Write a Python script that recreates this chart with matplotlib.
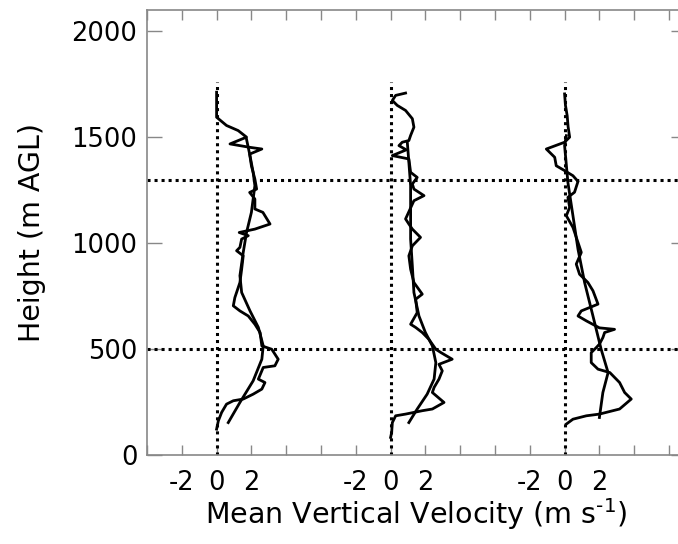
import matplotlib
matplotlib.use("Agg")
import matplotlib.pyplot as plt
import numpy as np

plt.rcParams['font.family'] = ['DejaVu Sans']
plt.rcParams['mathtext.fontset'] = 'dejavusans'
plt.rcParams['axes.unicode_minus'] = False

# panel offsets along the shared x axis (m/s)
offsets = [0, 10, 20]

# panel 1: raw profile and smoothed profile (height m, velocity m/s)
h1_raw = [122, 161, 201, 240, 256, 264, 287, 311, 342, 358, 413, 421, 452, 499, 515, 578,
          617, 656, 680, 704, 743, 814, 877, 940, 964, 980, 1019, 1035, 1050, 1066, 1090,
          1145, 1161, 1208, 1239, 1255, 1302, 1365, 1420, 1444, 1452, 1468, 1500, 1531,
          1555, 1594, 1712]
v1_raw = [0.0, 0.1, 0.29, 0.57, 0.96, 1.53, 2.1, 2.6, 2.78, 2.4, 2.68, 3.35, 3.54, 3.17, 2.6, 2.5,
          2.2, 1.82, 1.34, 0.96, 1.05, 1.34, 1.44, 1.53, 1.15, 1.34, 1.44, 1.82, 1.3, 2.2, 3.07,
          2.66, 2.2, 2.2, 1.9, 2.3, 2.2, 2.0, 1.9, 2.6, 1.9, 0.77, 1.72, 1.24,
          0.57, 0.0, 0.0]
h1_smooth = [153, 248, 350, 452, 515, 602, 680, 767, 846, 956, 1050, 1145, 1271, 1334, 1412, 1490]
v1_smooth = [0.67, 1.34, 2.1, 2.6, 2.68, 2.4, 1.92, 1.44, 1.34, 1.53, 1.72, 2.0, 2.2, 2.1, 1.92, 1.72]

# panel 2
h2_raw = [83, 106, 153, 185, 193, 209, 217, 248, 295, 319, 358, 397, 428, 452, 483, 499, 546,
          578, 602, 617, 672, 735, 759, 814, 877, 940, 987, 1027, 1066, 1090, 1114, 1200,
          1224, 1255, 1279, 1310, 1334, 1397, 1413, 1440, 1460, 1476, 1484, 1508, 1547,
          1587, 1626, 1650, 1673, 1697, 1708]
v2_raw = [0.0, 0.06, 0.1, 0.29, 0.86, 1.82, 2.4, 3.07, 2.4, 2.5, 2.78, 2.97, 2.78, 3.54, 2.9, 2.6, 2.2,
          1.82, 1.44, 1.15, 1.53, 1.44, 1.82, 1.34, 1.15, 1.05, 1.25, 1.72, 1.25, 1.05, 0.86, 1.34,
          1.92, 1.34, 1.25, 1.53, 1.15, 1.05, 0.1, 0.9, 0.48, 0.67, 1.05, 1.15, 1.34,
          1.25, 0.86, 0.38, 0.1, 0.29, 0.86]
h2_smooth = [153, 217, 287, 358, 436, 515, 578, 656, 767, 892, 1019, 1145, 1271, 1381, 1476]
v2_smooth = [1.05, 1.53, 2.1, 2.5, 2.6, 2.4, 2.0, 1.63, 1.34, 1.25, 1.15, 1.15, 1.15, 1.05, 0.96]

# panel 3
h3_raw = [146, 169, 185, 193, 217, 264, 295, 342, 389, 405, 436, 483, 507, 523, 554, 578, 593,
          600, 633, 656, 680, 696, 712, 775, 814, 853, 901, 956, 981, 1074, 1129, 1169, 1216,
          1240, 1291, 1318, 1342, 1365, 1405, 1444, 1476, 1500, 1550, 1600, 1650, 1704]
v3_raw = [0.1, 0.48, 1.25, 2.0, 3.16, 3.83, 3.45, 3.16, 2.6, 1.92, 1.53, 1.53, 1.82, 2.0, 2.2, 2.3, 2.87,
          2.0, 1.25, 0.77, 0.96, 1.44, 1.92, 1.63, 1.34, 0.86, 0.67, 0.96, 0.86, 0.48, 0.1, 0.29, 0.19,
          0.57, 0.77, 0.48, 0.0, -0.48, -0.57, -1.05, 0.0, 0.29, 0.2, 0.15, 0.05, 0.0]
h3_smooth = [177, 295, 389, 499, 656, 814, 971, 1129, 1286, 1460, 1507]
v3_smooth = [2.0, 2.2, 2.5, 2.1, 1.63, 1.15, 0.77, 0.48, 0.19, 0.0, 0.1]

raw_h = [h1_raw, h2_raw, h3_raw]
raw_v = [v1_raw, v2_raw, v3_raw]
smooth_h = [h1_smooth, h2_smooth, h3_smooth]
smooth_v = [v1_smooth, v2_smooth, v3_smooth]

ref_heights = [500, 1300]
zero_line_top = 1760

fig = plt.figure(figsize=(6.78, 5.44), dpi=100)
# axes runs a little past the right edge of the figure, as in the original
ax = fig.add_axes([147 / 678, 89 / 544, 539 / 678, 445 / 544])

dot = (0, (1, 1.3))
for off in offsets:
    ax.plot([off, off], [0, zero_line_top], color='black', lw=2.2, linestyle=dot)
for hh in ref_heights:
    ax.axhline(hh, color='black', lw=2.2, linestyle=dot)

for i, off in enumerate(offsets):
    ax.plot(np.array(raw_v[i]) + off, raw_h[i], color='black', lw=2.0)
    ax.plot(np.array(smooth_v[i]) + off, smooth_h[i], color='black', lw=2.0)

ax.set_xlim(-4, -4 + 539 / 17.4)
ax.set_ylim(0, 2100)

xt = np.arange(-4, 28, 2)
labels = []
for t in xt:
    lab = ''
    for off in offsets:
        if t - off in (-2, 0, 2):
            lab = str(int(t - off))
    labels.append(lab)
ax.set_xticks(xt)
ax.set_xticklabels(labels)
ax.set_yticks([0, 500, 1000, 1500, 2000])

ax.tick_params(axis='x', direction='in', length=7, width=1, color='#888888',
               top=True, labelsize=18.5, pad=11)
ax.tick_params(axis='y', direction='in', length=11, width=1, color='#888888',
               right=True, labelsize=18.5, pad=7)
for s in ax.spines.values():
    s.set_color('#888888')
    s.set_linewidth(1.2)

ax.set_xlabel(r'Mean Vertical Velocity (m s$^{\text{-1}}$)', fontsize=20.5, labelpad=0)
ax.set_ylabel('Height (m AGL)', fontsize=20.5, labelpad=18)

fig.savefig('out.png', dpi=100)
